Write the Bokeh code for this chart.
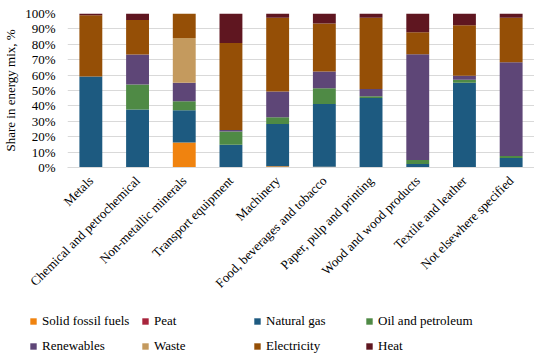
import math
from bokeh.plotting import figure
from bokeh.layouts import column, row
from bokeh.models import FactorRange, NumeralTickFormatter, Legend, LegendItem
from bokeh.embed import file_html
from bokeh.resources import INLINE

categories = ["Metals", "Chemical and petrochemical", "Non-metallic minerals",
              "Transport equipment", "Machinery", "Food, beverages and tobacco",
              "Paper, pulp and printing", "Wood and wood products",
              "Textile and leather", "Not elsewhere specified"]

solid_fossil_fuels = [0.0, 0.0, 16.3, 0.0, 0.8, 0.5, 0.0, 0.0, 0.0, 0.0]
peat = [0.0, 0.0, 0.0, 0.0, 0.0, 0.0, 0.0, 0.0, 0.0, 0.0]
natural_gas = [59.1, 37.6, 20.9, 14.8, 27.5, 40.8, 45.2, 2.2, 55.0, 6.1]
oil_and_petroleum = [0.0, 16.3, 5.8, 8.5, 4.3, 10.2, 1.1, 2.6, 2.0, 1.3]
renewables = [0.0, 19.4, 12.0, 1.0, 16.7, 10.9, 4.6, 68.7, 2.6, 60.9]
waste = [0.0, 0.0, 29.1, 0.0, 0.0, 0.0, 0.0, 0.0, 0.0, 0.0]
electricity = [39.8, 22.4, 15.9, 56.6, 47.9, 31.1, 46.3, 14.3, 32.8, 28.9]
heat = [1.1, 4.3, 0.0, 19.1, 2.8, 6.5, 2.8, 12.2, 7.6, 2.8]

series_names = ["Solid fossil fuels", "Peat", "Natural gas", "Oil and petroleum",
                "Renewables", "Waste", "Electricity", "Heat"]
series_values = [solid_fossil_fuels, peat, natural_gas, oil_and_petroleum,
                 renewables, waste, electricity, heat]
colors = ["#F0830F", "#A8243C", "#1D5A80", "#4F8A45",
          "#5E4677", "#C49A5E", "#954F06", "#5F1620"]

keys = ["s%d" % i for i in range(len(series_names))]
data = {"cat": categories}
for k, vals in zip(keys, series_values):
    data[k] = [v / 100.0 for v in vals]

FONT = "Liberation Serif"

p = figure(x_range=FactorRange(*categories, range_padding=0), y_range=(0, 1),
           width=534, height=308, output_backend="svg", toolbar_location=None,
           min_border_top=13, min_border_right=0, min_border_left=58,
           min_border_bottom=141)

p.vbar_stack(keys, x="cat", width=0.49, source=data, color=colors,
             line_color=None)

p.yaxis.formatter = NumeralTickFormatter(format="0%")
p.yaxis.ticker = [i / 10 for i in range(11)]
p.yaxis.axis_label = "Share in energy mix, %"
p.yaxis.axis_label_text_font = FONT
p.yaxis.axis_label_text_font_style = "normal"
p.yaxis.axis_label_text_font_size = "13px"
p.yaxis.axis_label_text_color = "#000000"
p.yaxis.axis_label_standoff = 4
p.yaxis.axis_line_color = None
p.yaxis.major_tick_line_color = None
p.yaxis.minor_tick_line_color = None
p.yaxis.major_label_text_font = FONT
p.yaxis.major_label_text_font_size = "13px"
p.yaxis.major_label_text_color = "#000000"
p.yaxis.major_label_standoff = 6

p.xaxis.major_label_orientation = math.pi / 4
p.xaxis.major_label_text_font = FONT
p.xaxis.major_label_text_font_size = "13px"
p.xaxis.major_label_text_color = "#000000"
p.xaxis.axis_line_color = "#d9d9d9"
p.xaxis.major_tick_line_color = None
p.xaxis.minor_tick_line_color = None

p.xgrid.grid_line_color = None
p.ygrid.grid_line_color = "#d9d9d9"
p.outline_line_color = None

# Legend figure: same stacked series, drawn outside its visible y-range,
# used only to carry the legend below the chart.
q = figure(x_range=FactorRange(*categories, range_padding=0), y_range=(5, 6),
           width=534, height=46, output_backend="svg", toolbar_location=None,
           min_border=0)
rs = q.vbar_stack(keys, x="cat", width=0.5, source=data, color=colors,
                  line_color=None)
q.axis.visible = False
q.grid.grid_line_color = None
q.outline_line_color = None

items = [LegendItem(label=n, renderers=[r]) for n, r in zip(series_names, rs)]
legend = Legend(items=items, ncols=4, orientation="horizontal",
                location=(29, 0),
                label_text_font=FONT, label_text_font_size="13px",
                label_text_color="#000000",
                glyph_width=8, glyph_height=8, label_standoff=5,
                label_width=90, spacing=9, padding=0, margin=0,
                border_line_color=None, background_fill_alpha=0)
q.add_layout(legend, "center")

layout = column(p, row(q, spacing=0), spacing=0)
open("out.html", "w").write(file_html(layout, INLINE))
